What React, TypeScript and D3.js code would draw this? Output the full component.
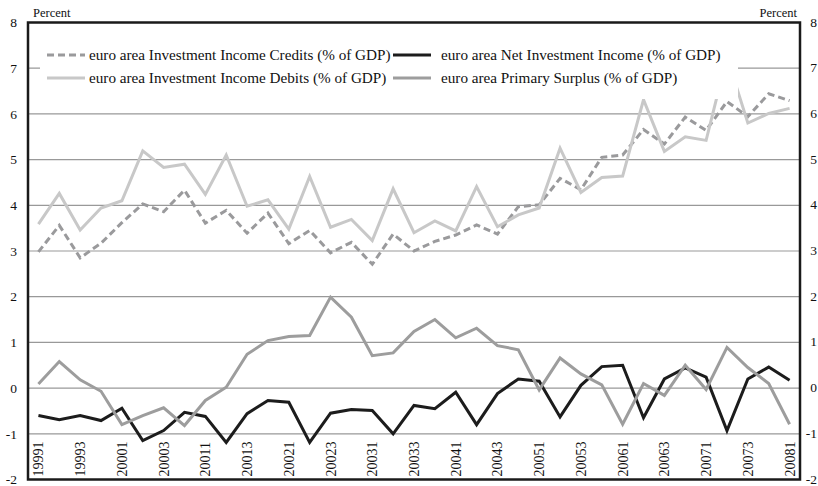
import { FC } from 'react';
import * as d3 from 'd3';

// quarters 1999Q1 .. 2008Q1, written as in the source sheet
const quarters = [
  '19991', '19992', '19993', '19994', '20001', '20002', '20003', '20004',
  '20011', '20012', '20013', '20014', '20021', '20022', '20023', '20024',
  '20031', '20032', '20033', '20034', '20041', '20042', '20043', '20044',
  '20051', '20052', '20053', '20054', '20061', '20062', '20063', '20064',
  '20071', '20072', '20073', '20074', '20081',
];

const credits = [
  2.98, 3.56, 2.85, 3.17, 3.62, 4.03, 3.86, 4.33, 3.61, 3.89,
  3.39, 3.83, 3.16, 3.45, 2.96, 3.19, 2.71, 3.37, 3.0, 3.21,
  3.35, 3.57, 3.37, 3.97, 4.01, 4.59, 4.34, 5.05, 5.1, 5.66,
  5.34, 5.93, 5.64, 6.27, 5.94, 6.44, 6.29,
];

const debits = [
  3.59, 4.26, 3.46, 3.94, 4.1, 5.19, 4.83, 4.9, 4.24, 5.1,
  3.98, 4.12, 3.48, 4.63, 3.52, 3.69, 3.23, 4.36, 3.4, 3.66,
  3.44, 4.41, 3.53, 3.79, 3.94, 5.25, 4.28, 4.61, 4.64, 6.31,
  5.18, 5.5, 5.42, 7.25, 5.8, 6.01, 6.12,
];

const netIncome = [
  -0.6, -0.69, -0.6, -0.71, -0.44, -1.15, -0.93, -0.53, -0.62, -1.19,
  -0.56, -0.27, -0.31, -1.19, -0.55, -0.47, -0.49, -1.0, -0.38, -0.45,
  -0.09, -0.8, -0.12, 0.2, 0.15, -0.63, 0.06, 0.47, 0.5, -0.65,
  0.2, 0.44, 0.24, -0.93, 0.2, 0.46, 0.17,
];

const primarySurplus = [
  0.09, 0.58, 0.18, -0.07, -0.8, -0.6, -0.43, -0.82, -0.27, 0.02,
  0.74, 1.04, 1.13, 1.15, 1.99, 1.55, 0.71, 0.77, 1.24, 1.5,
  1.1, 1.31, 0.93, 0.84, -0.04, 0.66, 0.31, 0.07, -0.79, 0.1,
  -0.16, 0.5, -0.03, 0.89, 0.45, 0.1, -0.79,
];

const yTicks = [-2, -1, 0, 1, 2, 3, 4, 5, 6, 7, 8];

const seriesList = [
  { name: 'euro area Investment Income Credits (% of GDP)', values: credits, color: '#9a9a9c', dash: '7,4' },
  { name: 'euro area Net Investment Income (% of GDP)', values: netIncome, color: '#1c1c1c', dash: '' },
  { name: 'euro area Investment Income Debits (% of GDP)', values: debits, color: '#c8c8c8', dash: '' },
  { name: 'euro area Primary Surplus (% of GDP)', values: primarySurplus, color: '#9d9d9d', dash: '' },
];

const FONT = '"Liberation Serif", "Times New Roman", serif';

const App: FC = () => {
  const width = 818;
  const height = 486;
  const plot = { left: 28, right: 800, top: 22.5, bottom: 479.5 };

  const x = d3.scalePoint<string>().domain(quarters).range([plot.left, plot.right]).padding(0.5);
  const y = d3.scaleLinear().domain([-2, 8]).range([plot.bottom, plot.top]);

  const line = d3
    .line<number>()
    .x((_, i) => x(quarters[i]) as number)
    .y(d => y(d));

  // legend box hides whatever runs under it
  const legendBox = { x: 40, y: 30, w: 698, h: 69 };
  const legendPos = [
    { sx: 47, tx: 89, ty: 55 },
    { sx: 393, tx: 441, ty: 55 },
    { sx: 47, tx: 89, ty: 78 },
    { sx: 393, tx: 441, ty: 78 },
  ];

  return (
    <svg
      width={width}
      height={height}
      style={{ position: 'absolute', left: 0, top: 0, background: '#fff' }}
      fontFamily={FONT}
    >
      {/* gridlines */}
      {yTicks.filter(t => t > -2 && t < 8).map(t => (
        <line key={t} x1={plot.left} x2={plot.right} y1={y(t)} y2={y(t)} stroke="#999" strokeWidth={1.2} />
      ))}

      {/* series */}
      {seriesList.map(s => (
        <path
          key={s.name}
          d={line(s.values) ?? ''}
          fill="none"
          stroke={s.color}
          strokeWidth={3}
          strokeDasharray={s.dash || undefined}
          strokeLinejoin="miter"
        />
      ))}

      {/* legend */}
      <rect x={legendBox.x} y={legendBox.y} width={legendBox.w} height={legendBox.h} fill="#fff" />
      {seriesList.map((s, i) => (
        <g key={s.name}>
          <line
            x1={legendPos[i].sx}
            x2={legendPos[i].sx + 38}
            y1={legendPos[i].ty}
            y2={legendPos[i].ty}
            stroke={s.color}
            strokeWidth={3}
            strokeDasharray={s.dash || undefined}
          />
          <text x={legendPos[i].tx} y={legendPos[i].ty} dy="0.35em" fontSize={15.2} fill="#111">
            {s.name}
          </text>
        </g>
      ))}

      {/* frame */}
      <rect
        x={plot.left}
        y={plot.top}
        width={plot.right - plot.left}
        height={plot.bottom - plot.top}
        fill="none"
        stroke="#1a1a1a"
        strokeWidth={2.5}
      />

      {/* y axis labels, both sides */}
      {yTicks.map(t => (
        <g key={t}>
          <text x={17} y={y(t)} dy="0.35em" textAnchor="end" fontSize={13.5} fill="#111">
            {t}
          </text>
          <text x={817} y={y(t)} dy="0.3em" textAnchor="end" fontSize={13.5} fill="#111">
            {t}
          </text>
        </g>
      ))}
      <text x={33} y={17} fontSize={12.5} fill="#111">Percent</text>
      <text x={797} y={17} fontSize={12.5} fill="#111" textAnchor="end">Percent</text>

      {/* x axis labels, every second quarter */}
      {quarters.filter((_, i) => i % 2 === 0).map(q => (
        <text
          key={q}
          transform={`translate(${(x(q) as number) + 5},${plot.bottom - 3}) rotate(-90)`}
          fontSize={14}
          fill="#111"
        >
          {q}
        </text>
      ))}
    </svg>
  );
};

export default App;
